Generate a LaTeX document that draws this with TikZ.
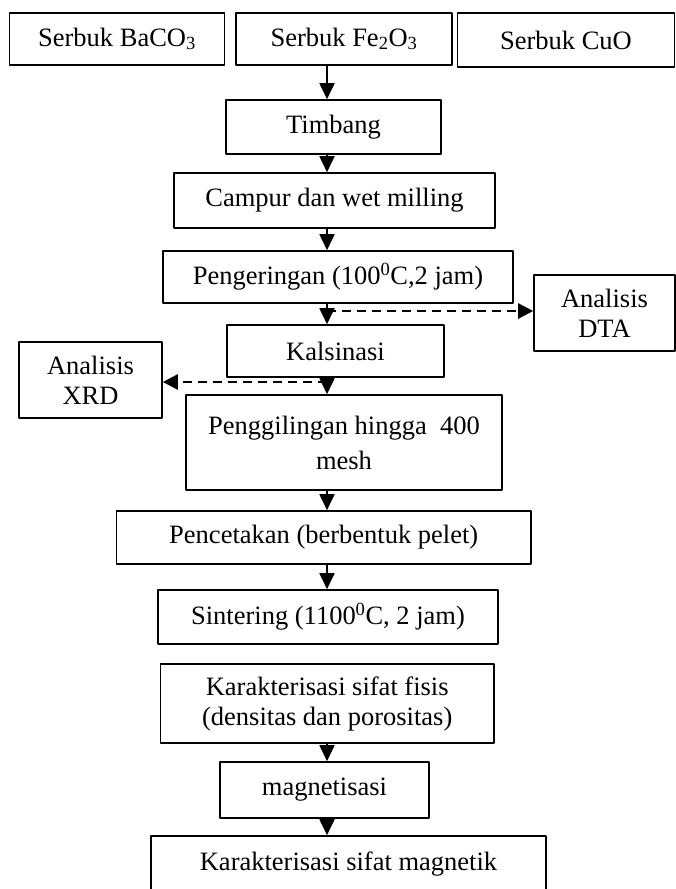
\documentclass[tikz,border=0pt]{standalone}
\usepackage{fontspec}
\setmainfont{Liberation Serif}
\usetikzlibrary{arrows.meta}

\begin{document}
\begin{tikzpicture}[x=1pt, y=-1pt, font=\fontsize{26.5}{30}\selectfont, line join=round,
		kotak/.style={draw, line width=1.6pt, inner sep=0pt, align=center},
		panah/.style={line width=1.8pt, -{Triangle[length=16pt,width=15pt]}},
		putus/.style={line width=2.4pt, dash pattern=on 9pt off 6pt, -{Triangle[length=15pt,width=15pt]}}]
	\useasboundingbox (0,0) rectangle (676,889);
	\clip (0,0) rectangle (676,889);
	% bahan awal
	\node[kotak, minimum width=215, minimum height=52] (baco) at (117,39) {Serbuk BaCO\textsubscript{3}};
	\node[kotak, minimum width=216, minimum height=52] (feo) at (344,39) {Serbuk Fe\textsubscript{2}O\textsubscript{3}};
	\node[kotak, minimum width=217, minimum height=54] (cuo) at (566,40) {Serbuk CuO};
	% proses
	\node[kotak, minimum width=215, minimum height=54] (timbang) at (333.5,127) {Timbang};
	\node[kotak, minimum width=321, minimum height=55] (campur) at (334.5,200.5) {Campur dan wet milling};
	\node[kotak, minimum width=350, minimum height=52] (kering) at (338,277) {Pengeringan (100\textsuperscript{0}C,2 jam)};
	\node[kotak, minimum width=217, minimum height=52] (kalsinasi) at (335.5,351) {Kalsinasi};
	\node[kotak, minimum width=316, minimum height=95] (giling) at (344,442.5) {Penggilingan hingga\ \ 400\\[5pt]mesh};
	\node[kotak, minimum width=414.5, minimum height=53] (cetak) at (323.75,537.5) {Pencetakan (berbentuk pelet)};
	\node[kotak, minimum width=340, minimum height=54] (sinter) at (328,617) {Sintering (1100\textsuperscript{0}C, 2 jam)};
	\node[kotak, minimum width=333.5, minimum height=79] (fisis) at (327.25,703.5) {Karakterisasi sifat fisis\\(densitas dan porositas)};
	\node[kotak, minimum width=209, minimum height=56] (magnet) at (324.5,790) {magnetisasi};
	\node[kotak, minimum width=395, minimum height=56] (magnetik) at (348.5,864) {Karakterisasi sifat magnetik};
	% analisis
	\node[kotak, minimum width=141, minimum height=76] (dta) at (604.5,313) {Analisis\\DTA};
	\node[kotak, minimum width=143, minimum height=76] (xrd) at (90.5,380) {Analisis\\XRD};
	% alur
	\coordinate (sumbu) at (327,0);
	\coordinate (cabang1) at (327,311);
	\coordinate (cabang2) at (327,382);
	\draw[panah] (feo.south -| sumbu) -- (timbang.north -| sumbu);
	\draw[panah] (timbang.south -| sumbu) -- (campur.north -| sumbu);
	\draw[panah] (campur.south -| sumbu) -- (kering.north -| sumbu);
	\draw[panah] (kering.south -| sumbu) -- (kalsinasi.north -| sumbu);
	\draw[panah] (kalsinasi.south -| sumbu) -- (giling.north -| sumbu);
	\draw[panah] (giling.south -| sumbu) -- (cetak.north -| sumbu);
	\draw[panah] (cetak.south -| sumbu) -- (sinter.north -| sumbu);
	\draw[panah] (fisis.south -| sumbu) -- (magnet.north -| sumbu);
	\draw[panah] (magnet.south -| sumbu) -- (magnetik.north -| sumbu);
	\draw[putus] (cabang1) -- (cabang1 -| dta.west);
	\draw[putus] (cabang2) -- (cabang2 -| xrd.east);
\end{tikzpicture}
\end{document}
